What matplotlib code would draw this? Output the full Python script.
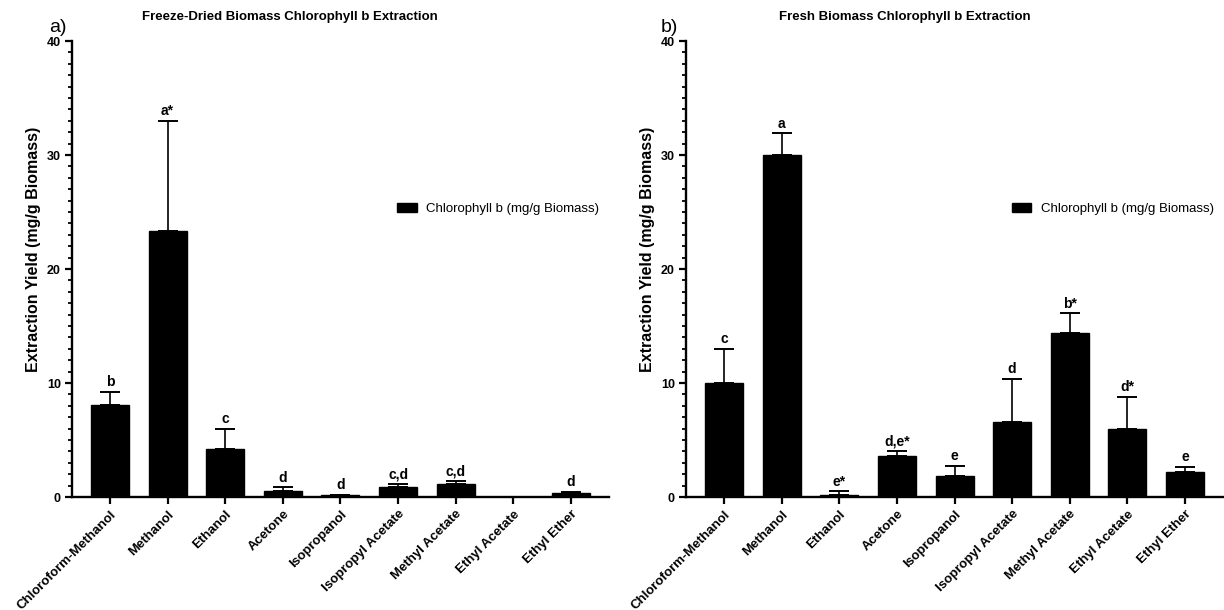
import numpy as np
import matplotlib.pyplot as plt
from matplotlib.ticker import MultipleLocator

plt.rcParams['font.family'] = ['Liberation Sans', 'DejaVu Sans']

solvents = ['Chloroform-Methanol', 'Methanol', 'Ethanol', 'Acetone', 'Isopropanol',
            'Isopropyl Acetate', 'Methyl Acetate', 'Ethyl Acetate', 'Ethyl Ether']

# freeze-dried biomass
dried_mean = [8.1, 23.3, 4.2, 0.55, 0.15, 0.92, 1.16, 0.0, 0.32]
dried_err = [1.1, 9.7, 1.8, 0.3, 0.05, 0.2, 0.26, 0.0, 0.15]
dried_letters = ['b', 'a*', 'c', 'd', 'd', 'c,d', 'c,d', '', 'd']

# fresh biomass
fresh_mean = [10.0, 30.0, 0.15, 3.64, 1.83, 6.57, 14.4, 5.95, 2.19]
fresh_err = [3.0, 1.9, 0.35, 0.41, 0.89, 3.8, 1.7, 2.84, 0.47]
fresh_letters = ['c', 'a', 'e*', 'd,e*', 'e', 'd', 'b*', 'd*', 'e']

fig = plt.figure(figsize=(12.24, 6.1), dpi=100)
ax1 = fig.add_axes([0.0588, 0.1852, 0.4387, 0.7475])
ax2 = fig.add_axes([0.5605, 0.1852, 0.4387, 0.7475])

x = np.arange(len(solvents))


def panel(ax, means, errs, letters):
    ax.bar(x, means, 0.66, color='black', edgecolor='black', label='Chlorophyll b (mg/g Biomass)')
    ax.errorbar(x, means, yerr=[np.zeros(len(errs)), errs], fmt='none', ecolor='black',
                elinewidth=1.2, capsize=7, capthick=1.4)
    for xi, m, e, lab in zip(x, means, errs, letters):
        if lab:
            ax.annotate(lab, (xi, m + e), xytext=(0, 2), textcoords='offset points',
                        ha='center', va='bottom', fontsize=10, fontweight='bold')
    ax.set_xlim(-0.66, 8.66)
    ax.set_ylim(0, 40)
    ax.yaxis.set_major_locator(MultipleLocator(10))
    ax.yaxis.set_minor_locator(MultipleLocator(1))
    ax.set_xticks(x)
    ax.set_xticklabels(solvents, rotation=45, ha='right', rotation_mode='anchor',
                       fontsize=9.5, fontweight='bold')
    for t in ax.get_yticklabels():
        t.set_fontweight('bold')
        t.set_fontsize(9)
    ax.tick_params(axis='both', which='major', length=5, width=1.6, direction='out', pad=3)
    ax.tick_params(axis='y', which='minor', length=3, width=1.3, direction='out')
    ax.spines['top'].set_visible(False)
    ax.spines['right'].set_visible(False)
    ax.spines['left'].set_linewidth(1.7)
    ax.spines['bottom'].set_linewidth(1.7)
    ax.set_ylabel('Extraction Yield (mg/g Biomass)', fontsize=11.5, fontweight='bold')
    ax.yaxis.set_label_coords(-0.058, 0.544)
    ax.legend(loc='lower left', bbox_to_anchor=(0.584, 0.592), frameon=False, fontsize=9.5,
              handlelength=1.5, handleheight=0.75, handletextpad=0.7)


panel(ax1, dried_mean, dried_err, dried_letters)
panel(ax2, fresh_mean, fresh_err, fresh_letters)

fig.text(290 / 1224, 1 - 17 / 610, 'Freeze-Dried Biomass Chlorophyll b Extraction',
         ha='center', va='center', fontsize=9.5, fontweight='bold')
fig.text(905 / 1224, 1 - 17 / 610, 'Fresh Biomass Chlorophyll b Extraction',
         ha='center', va='center', fontsize=9.5, fontweight='bold')
fig.text(49 / 1224, 1 - 27 / 610, 'a)', ha='left', va='center', fontsize=14)
fig.text(661 / 1224, 1 - 27 / 610, 'b)', ha='left', va='center', fontsize=14)

plt.savefig('out.png', dpi=100)
